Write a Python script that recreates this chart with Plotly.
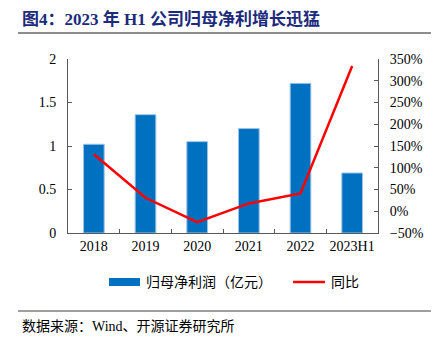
import plotly.graph_objects as go

categories = ["2018", "2019", "2020", "2021", "2022", "2023H1"]
profit = [1.02, 1.36, 1.05, 1.20, 1.72, 0.69]
yoy = [131, 31, -25, 18, 41, 334]

bar_name = "归母净利润（亿元）"
line_name = "同比"
title_text = "图4：2023 年 H1 公司归母净利增长迅猛"
source_text = "数据来源：Wind、开源证券研究所"

FONT = "Liberation Serif, Times New Roman, Noto Sans CJK SC, serif"
CJK = "Liberation Serif, Noto Sans CJK SC, serif"

fig = go.Figure()
fig.add_trace(go.Bar(x=categories, y=profit, name=bar_name, width=0.4,
                     marker=dict(color="#0070C0", line=dict(color="#9cc3e6", width=1)),
                     yaxis="y", showlegend=False))
fig.add_trace(go.Scatter(x=categories, y=yoy, name=line_name, mode="lines",
                         line=dict(color="#FF0000", width=2.5),
                         yaxis="y2", showlegend=False))

axis_color = "#595959"
fig.update_layout(
    width=436, height=343,
    margin=dict(l=68, r=58, t=59, b=110),
    paper_bgcolor="white", plot_bgcolor="white",
    font=dict(family=FONT, size=14, color="#000000"),
    xaxis=dict(type="category", showline=True, linecolor=axis_color, linewidth=1,
               ticks="inside", tickson="boundaries", ticklen=4, tickcolor=axis_color,
               showgrid=False, zeroline=False, tickangle=0, automargin=False,
               tickfont=dict(size=14)),
    yaxis=dict(range=[0, 2], dtick=0.5, showline=True, linecolor=axis_color, linewidth=1,
               ticks="inside", ticklen=4, tickcolor=axis_color, showgrid=False,
               zeroline=False, ticklabelstandoff=8, tickfont=dict(size=14)),
    yaxis2=dict(range=[-50, 350], dtick=50, ticksuffix="%", overlaying="y", side="right",
                showline=True, linecolor=axis_color, linewidth=1, ticks="inside",
                ticklen=4, tickcolor=axis_color, showgrid=False, zeroline=False,
                ticklabelstandoff=8, tickfont=dict(size=14)),
    bargap=0.6,
)

# pixel -> paper coordinates relative to the plot area
plot_l, plot_r, plot_t, plot_b = 68, 378, 59, 233
def xp(x):
    return (x - plot_l) / (plot_r - plot_l)
def yp(y):
    return (plot_b - y) / (plot_b - plot_t)

shapes = [
    dict(type="line", xref="paper", yref="paper", x0=xp(18), x1=xp(431),
         y0=yp(33), y1=yp(33), line=dict(color="#8c8c8c", width=2)),
    dict(type="line", xref="paper", yref="paper", x0=xp(18), x1=xp(431),
         y0=yp(311), y1=yp(311), line=dict(color="#404040", width=1)),
    dict(type="rect", xref="paper", yref="paper", x0=xp(109), x1=xp(140),
         y0=yp(286), y1=yp(278), fillcolor="#0070C0", line=dict(width=0)),
    dict(type="line", xref="paper", yref="paper", x0=xp(293), x1=xp(325),
         y0=yp(282), y1=yp(282), line=dict(color="#FF0000", width=2.5)),
]

annotations = [
    dict(text="<b>" + title_text + "</b>", xref="paper", yref="paper", x=xp(20), y=yp(19),
         xanchor="left", yanchor="middle", showarrow=False,
         font=dict(family=CJK, size=17, color="#1c2a7c")),
    dict(text=source_text, xref="paper", yref="paper", x=xp(20), y=yp(326),
         xanchor="left", yanchor="middle", showarrow=False,
         font=dict(family=CJK, size=14, color="#000000")),
    dict(text=bar_name, xref="paper", yref="paper", x=xp(144), y=yp(282),
         xanchor="left", yanchor="middle", showarrow=False,
         font=dict(family=CJK, size=14, color="#000000")),
    dict(text=line_name, xref="paper", yref="paper", x=xp(329), y=yp(282),
         xanchor="left", yanchor="middle", showarrow=False,
         font=dict(family=CJK, size=14, color="#000000")),
]
fig.update_layout(shapes=shapes, annotations=annotations)

fig.write_html("out.html")
